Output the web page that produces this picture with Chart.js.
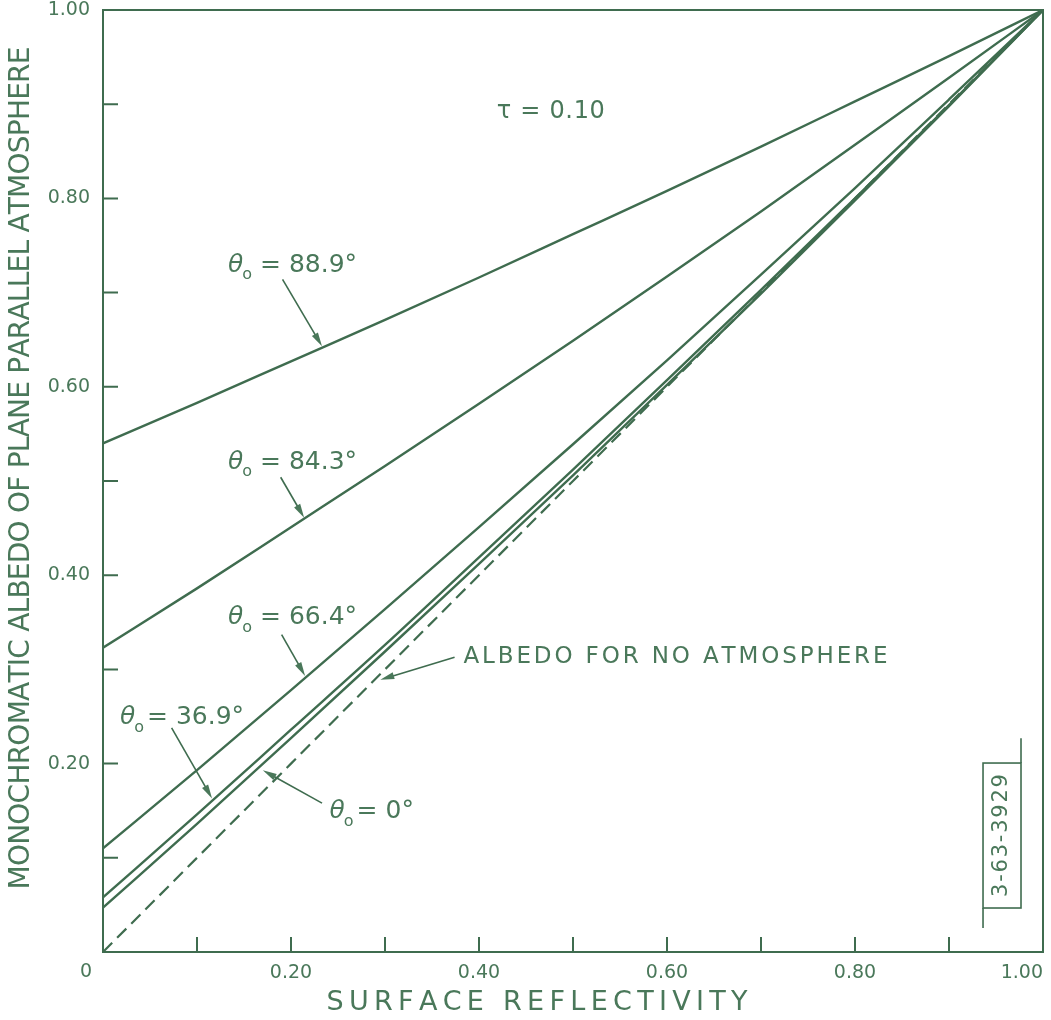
<!DOCTYPE html>
<html>
<head>
<meta charset="utf-8">
<title>Monochromatic albedo of a plane parallel atmosphere</title>
<script src="https://cdn.jsdelivr.net/npm/chart.js@4.4.1/dist/chart.umd.min.js"></script>
<style>
  html, body { margin: 0; padding: 0; background: #ffffff; }
  canvas { display: block; }
</style>
</head>
<body>
<canvas id="albedoChart" width="1051" height="1020"></canvas>
<script>
// ===============================
// DATA (tau = 0.10)
// ===============================
const reflectivity = [0, 0.1, 0.2, 0.3, 0.4, 0.5, 0.6, 0.7, 0.8, 0.9, 1.0];

const albedo889 = [0.540, 0.583, 0.627, 0.671, 0.716, 0.762, 0.808, 0.855, 0.903, 0.951, 1.000];
const albedo843 = [0.323, 0.386, 0.451, 0.516, 0.582, 0.649, 0.717, 0.786, 0.857, 0.928, 1.000];
const albedo664 = [0.110, 0.193, 0.278, 0.364, 0.451, 0.539, 0.628, 0.719, 0.811, 0.905, 1.000];
const albedo369 = [0.058, 0.146, 0.236, 0.326, 0.419, 0.512, 0.607, 0.703, 0.800, 0.899, 1.000];
const albedo0   = [0.047, 0.136, 0.227, 0.319, 0.412, 0.506, 0.602, 0.699, 0.798, 0.898, 1.000];
const albedoNoAtmosphere = [0, 0.1, 0.2, 0.3, 0.4, 0.5, 0.6, 0.7, 0.8, 0.9, 1.0];

const minorTicks = [0.1, 0.2, 0.3, 0.4, 0.5, 0.6, 0.7, 0.8, 0.9];

// ===============================
// STYLE
// ===============================
const INK = "#4a785a";
const LINE = "#3f6c4f";
const FONT = "'DejaVu Sans', sans-serif";

// label positions are in axis units
const thetaLabels = [
    { rest: " = 88.9°", at: [0.133, 0.729], from: [0.191, 0.714], to: [0.233, 0.643] },
    { rest: " = 84.3°", at: [0.133, 0.520], from: [0.189, 0.504], to: [0.214, 0.461] },
    { rest: " = 66.4°", at: [0.133, 0.355], from: [0.190, 0.337], to: [0.215, 0.293] },
    { rest: "= 36.9°",  at: [0.018, 0.249], from: [0.073, 0.238], to: [0.116, 0.163] },
    { rest: "= 0°",     at: [0.241, 0.149], from: [0.233, 0.158], to: [0.170, 0.193] }
];

function toPoints(ys) {
    return reflectivity.map((x, i) => ({ x: x, y: ys[i] }));
}

// draw a string char by char so it spans exactly `width` px, centred on x
function spacedText(ctx, text, x, y, width) {
    const chars = [...text];
    const widths = chars.map(c => ctx.measureText(c).width);
    const total = widths.reduce((a, b) => a + b, 0);
    const gap = chars.length > 1 ? (width - total) / (chars.length - 1) : 0;
    let cx = x - width / 2;
    ctx.textAlign = "left";
    chars.forEach((c, i) => {
        ctx.fillText(c, cx, y);
        cx += widths[i] + gap;
    });
}

function arrow(ctx, x1, y1, x2, y2) {
    const a = Math.atan2(y2 - y1, x2 - x1);
    const len = 14, half = 3.5;
    ctx.beginPath();
    ctx.moveTo(x1, y1);
    ctx.lineTo(x2 - Math.cos(a) * len * 0.7, y2 - Math.sin(a) * len * 0.7);
    ctx.stroke();
    ctx.beginPath();
    ctx.moveTo(x2, y2);
    ctx.lineTo(x2 - len * Math.cos(a) + half * Math.sin(a), y2 - len * Math.sin(a) - half * Math.cos(a));
    ctx.lineTo(x2 - len * Math.cos(a) - half * Math.sin(a), y2 - len * Math.sin(a) + half * Math.cos(a));
    ctx.closePath();
    ctx.fill();
}

function thetaLabel(ctx, x, y, rest) {
    ctx.textBaseline = "middle";
    ctx.textAlign = "left";
    ctx.font = "italic 25px " + FONT;
    ctx.fillText("θ", x, y);
    let cx = x + ctx.measureText("θ").width - 1;
    ctx.font = "16px " + FONT;
    ctx.fillText("o", cx, y + 10);
    cx += ctx.measureText("o").width + (rest.startsWith(" ") ? 0 : 3);
    ctx.font = "25px " + FONT;
    ctx.fillText(rest, cx, y);
}

// ===============================
// FRAME, INWARD TICKS, NOTES
// ===============================
const decorations = {
    id: "decorations",
    afterDraw(chart) {
        const ctx = chart.ctx;
        const xs = chart.scales.x, ys = chart.scales.y;
        const { left, right, top, bottom } = chart.chartArea;
        const px = v => xs.getPixelForValue(v);
        const py = v => ys.getPixelForValue(v);

        ctx.save();
        ctx.strokeStyle = LINE;
        ctx.fillStyle = INK;

        // frame
        ctx.lineWidth = 2;
        ctx.strokeRect(left, top, right - left, bottom - top);

        // inward tick marks
        minorTicks.forEach(v => {
            ctx.beginPath();
            ctx.moveTo(px(v), bottom);
            ctx.lineTo(px(v), bottom - 15);
            ctx.moveTo(left, py(v));
            ctx.lineTo(left + 15, py(v));
            ctx.stroke();
        });

        // shared origin label
        ctx.font = "19px " + FONT;
        ctx.textAlign = "center";
        ctx.textBaseline = "middle";
        ctx.fillText("0", left - 17, bottom + 20);

        // axis titles
        ctx.font = "27px " + FONT;
        ctx.textBaseline = "middle";
        spacedText(ctx, "SURFACE REFLECTIVITY", 537, 1003, 421);
        ctx.save();
        ctx.translate(22, 468);
        ctx.rotate(-Math.PI / 2);
        ctx.font = "28px " + FONT;
        spacedText(ctx, "MONOCHROMATIC ALBEDO OF PLANE PARALLEL ATMOSPHERE", 0, 0, 843);
        ctx.restore();

        // tau
        ctx.font = "24px " + FONT;
        ctx.textBaseline = "middle";
        spacedText(ctx, "τ = 0.10", px(0.419) + 54, py(0.892), 108);

        // curve labels with arrows
        ctx.lineWidth = 1.6;
        thetaLabels.forEach(l => {
            thetaLabel(ctx, px(l.at[0]), py(l.at[1]), l.rest);
            arrow(ctx, px(l.from[0]), py(l.from[1]), px(l.to[0]), py(l.to[1]));
        });

        ctx.font = "23px " + FONT;
        ctx.textBaseline = "middle";
        spacedText(ctx, "ALBEDO FOR NO ATMOSPHERE", px(0.609), py(0.313), 424);
        arrow(ctx, px(0.374), py(0.313), px(0.295), py(0.289));

        // drawing number box
        ctx.lineWidth = 1.6;
        const bx1 = px(0.9362), bx2 = px(0.9766), by1 = py(0.2006), by2 = py(0.0467);
        ctx.strokeRect(bx1, by1, bx2 - bx1, by2 - by1);
        ctx.beginPath();
        ctx.moveTo(bx2, by1);
        ctx.lineTo(bx2, py(0.227));
        ctx.moveTo(bx1, by2);
        ctx.lineTo(bx1, py(0.0255));
        ctx.stroke();
        ctx.save();
        ctx.translate((bx1 + bx2) / 2, (by1 + by2) / 2);
        ctx.rotate(-Math.PI / 2);
        ctx.font = "21px " + FONT;
        ctx.textBaseline = "middle";
        spacedText(ctx, "3-63-3929", 0, 0, 123);
        ctx.restore();

        ctx.restore();
    }
};

// ===============================
// CHART
// ===============================
function solid(data) {
    return {
        data: toPoints(data),
        borderColor: LINE,
        borderWidth: 2.4,
        pointRadius: 0,
        cubicInterpolationMode: "monotone",
        fill: false
    };
}

const ctx = document.getElementById("albedoChart").getContext("2d");

new Chart(ctx, {
    type: "line",
    data: {
        datasets: [
            solid(albedo889),
            solid(albedo843),
            solid(albedo664),
            solid(albedo369),
            solid(albedo0),
            {
                data: toPoints(albedoNoAtmosphere),
                borderColor: LINE,
                borderWidth: 2.2,
                borderDash: [13, 7],
                pointRadius: 0,
                fill: false
            }
        ]
    },
    options: {
        responsive: false,
        animation: false,
        layout: {
            autoPadding: false,
            padding: { top: 10, right: 8, left: 0, bottom: 0 }
        },
        plugins: {
            legend: { display: false },
            tooltip: { enabled: false }
        },
        scales: {
            x: {
                type: "linear",
                min: 0,
                max: 1,
                border: { display: false },
                grid: { display: false, drawTicks: false },
                ticks: {
                    stepSize: 0.2,
                    padding: 10,
                    align: "inner",
                    color: INK,
                    font: { family: FONT, size: 19 },
                    callback: v => (v === 0 ? "" : v.toFixed(2))
                },
                // fixed height, no extra room for the end labels
                afterFit: s => {
                    s.height = 68;
                    s.paddingLeft = 0;
                    s.paddingRight = 0;
                }
            },
            y: {
                type: "linear",
                min: 0,
                max: 1,
                border: { display: false },
                grid: { display: false, drawTicks: false },
                ticks: {
                    stepSize: 0.2,
                    padding: 13,
                    color: INK,
                    font: { family: FONT, size: 19 },
                    callback: v => (v === 0 ? "" : v.toFixed(2))
                },
                afterFit: s => {
                    s.width = 103;
                    s.paddingTop = 0;
                    s.paddingBottom = 0;
                }
            }
        }
    },
    plugins: [decorations]
});
</script>
</body>
</html>
